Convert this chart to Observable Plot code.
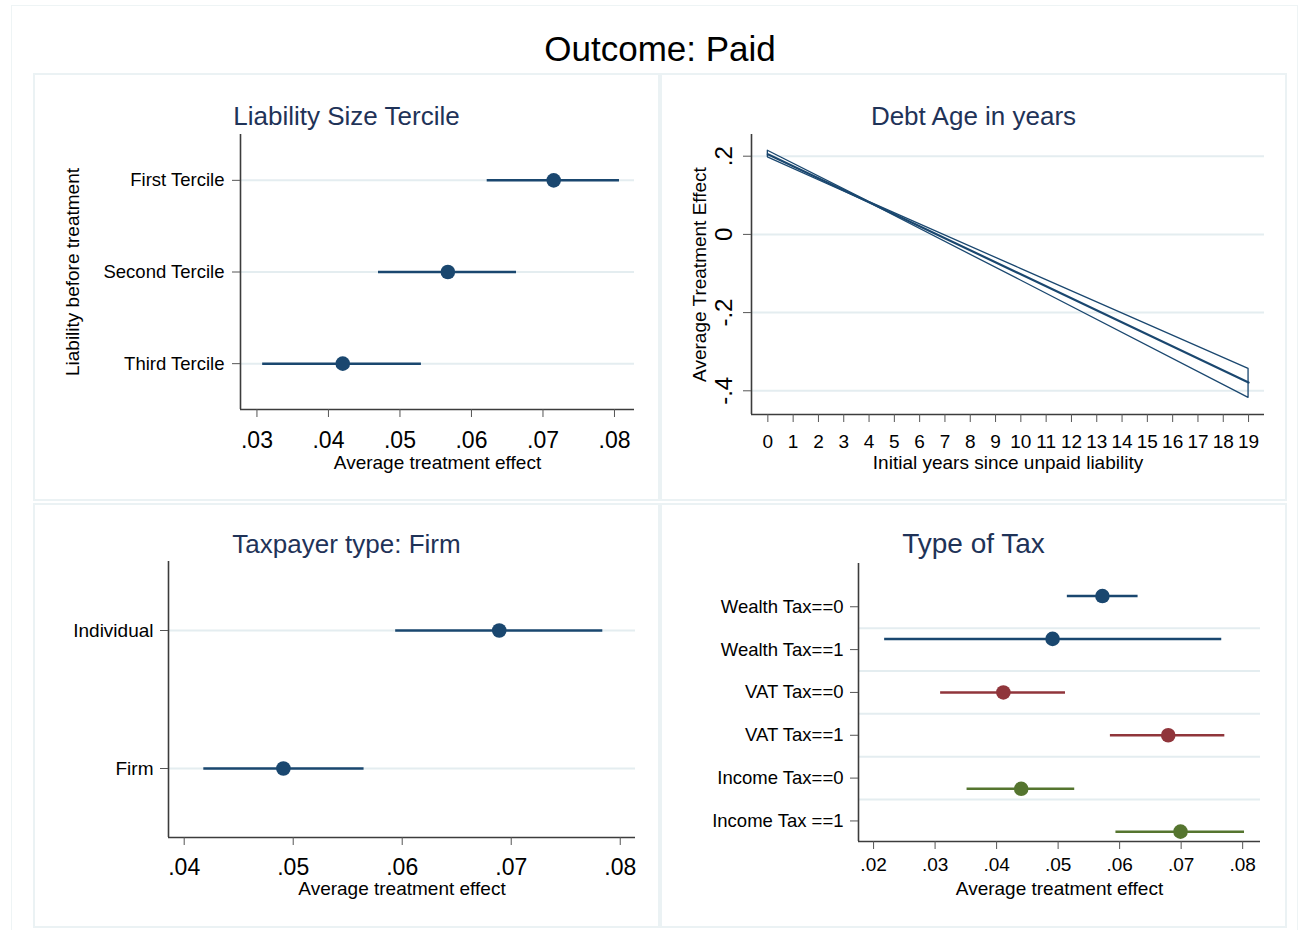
<!DOCTYPE html>
<html>
<head>
<meta charset="utf-8">
<script src="https://cdn.jsdelivr.net/npm/d3@7"></script>
<script src="https://cdn.jsdelivr.net/npm/@observablehq/plot@0.6"></script>
<style>
  html, body { margin: 0; padding: 0; background: #fff; }
  body { font-family: "Liberation Sans", Arial, sans-serif; }
  #root { position: relative; width: 1308px; height: 930px; overflow: hidden; }
  #outer { position: absolute; left: 11px; top: 5px; width: 1287px; height: 940px; box-shadow: inset 0 0 0 1px #eef4f5; }
  #main-title { position: absolute; left: 0; width: 1320px; top: 29px; text-align: center; font-size: 35px; line-height: 40px; color: #000; }
  .panel { position: absolute; box-shadow: inset 0 0 0 2px #ebf2f4; }
  .ptitle { position: absolute; left: 0; right: 0; text-align: center; line-height: 30px; color: #1f3358; white-space: nowrap; }
  .panel svg { position: absolute; left: 0; top: 0; }
</style>
</head>
<body>
<div id="root">
  <div id="outer"></div>
  <div id="main-title">Outcome: Paid</div>
</div>
<script>
// ---------------- data ----------------
// Panel 1: Liability Size Tercile
const tlCats = ["First Tercile", "Second Tercile", "Third Tercile"];
const tlEst  = [0.0715, 0.0567, 0.0420];
const tlLo   = [0.0622, 0.0470, 0.0308];
const tlHi   = [0.0807, 0.0663, 0.0530];
const tlXTicks = [0.03, 0.04, 0.05, 0.06, 0.07, 0.08];

// Panel 2: Debt Age in years
const ageYears = [0, 4, 10, 19];
const ageEst   = [0.205, 0.082, -0.102, -0.379];
const ageLo    = [0.197, 0.081, -0.118, -0.418];
const ageHi    = [0.214, 0.083, -0.088, -0.344];
const ageXTicks = [0,1,2,3,4,5,6,7,8,9,10,11,12,13,14,15,16,17,18,19];
const ageYTicks = [0.2, 0, -0.2, -0.4];

// Panel 3: Taxpayer type: Firm
const tpCats = ["Individual", "Firm"];
const tpEst  = [0.0689, 0.0491];
const tpLo   = [0.0594, 0.0418];
const tpHi   = [0.0784, 0.0565];
const tpXTicks = [0.04, 0.05, 0.06, 0.07, 0.08];

// Panel 4: Type of Tax
const taxCats  = ["Wealth Tax==0", "Wealth Tax==1", "VAT Tax==0", "VAT Tax==1", "Income Tax==0", "Income Tax ==1"];
const taxGroup = ["Wealth", "Wealth", "VAT", "VAT", "Income", "Income"];
const taxEst   = [0.0572, 0.0491, 0.0411, 0.0679, 0.0440, 0.0699];
const taxLo    = [0.0515, 0.0218, 0.0309, 0.0585, 0.0352, 0.0594];
const taxHi    = [0.0630, 0.0766, 0.0512, 0.0771, 0.0527, 0.0803];
const taxXTicks = [0.02, 0.03, 0.04, 0.05, 0.06, 0.07, 0.08];
const taxGroups = ["Wealth", "VAT", "Income"];

// ---------------- styling ----------------
const navy = "#1a476f", maroon = "#90353b", green = "#55752f";
const gridCol = "#e4edf0";
const axisCol = "#3c3c3c";
const tickCol = "#555";
const FONT = "'Liberation Sans', Arial, sans-serif";
const groupOffset = {Wealth: -0.25, VAT: 0, Income: 0.25};

function stata(v) {
  if (v === 0) return "0";
  const s = String(+v.toFixed(4));
  return s.replace(/^(-?)0\./, "$1.");
}

const root = document.getElementById("root");

function makePanel(box, frame, title, titleY, titleSize, plotFn) {
  const [left, top, width, height] = box;
  const div = document.createElement("div");
  div.className = "panel";
  Object.assign(div.style, {left: left + "px", top: top + "px", width: width + "px", height: height + "px"});
  const margins = {
    width, height,
    marginLeft: frame[0] - left,
    marginRight: left + width - frame[1],
    marginTop: frame[2] - top,
    marginBottom: top + height - frame[3]
  };
  const svg = plotFn(margins);
  div.appendChild(svg);
  const t = document.createElement("div");
  t.className = "ptitle";
  t.textContent = title;
  t.style.fontSize = titleSize + "px";
  t.style.top = (titleY - top - 15) + "px";
  div.appendChild(t);
  root.appendChild(div);
}

const baseStyle = {fontFamily: FONT, background: "transparent", overflow: "visible", color: "#000"};
const xLabelOpts = (dy) => ({frameAnchor: "bottom", textAnchor: "middle", lineAnchor: "middle", dy, fontSize: 19});
const yLabelOpts = (dx) => ({frameAnchor: "left", rotate: -90, textAnchor: "middle", lineAnchor: "middle", dx, fontSize: 19});

// ---------- Panel 1 ----------
const tlRows = tlCats.map((c, i) => ({i, c, est: tlEst[i], lo: tlLo[i], hi: tlHi[i]}));
makePanel([33, 73, 627, 428], [240, 634, 134, 409], "Liability Size Tercile", 116, 26, (m) => {
  const xd = [0.0277, 0.0828], yd = [2.5, -0.5];
  return Plot.plot({
    ...m, style: baseStyle,
    x: {domain: xd}, y: {domain: yd},
    marks: [
      Plot.ruleY(tlRows, {y: "i", stroke: gridCol, strokeWidth: 2}),
      Plot.ruleX([xd[0]], {stroke: axisCol, strokeWidth: 1.6}),
      Plot.ruleY([yd[0]], {stroke: axisCol, strokeWidth: 1.6}),
      Plot.axisX(tlXTicks, {tickFormat: stata, tickSize: 8, tickPadding: 14, fontSize: 23, stroke: tickCol, label: null}),
      Plot.axisY([0, 1, 2], {tickFormat: (i) => tlCats[i], tickSize: 8, tickPadding: 8, fontSize: 18.5, stroke: tickCol, label: null}),
      Plot.text(["Average treatment effect"], xLabelOpts(53)),
      Plot.text(["Liability before treatment"], yLabelOpts(-168)),
      Plot.ruleY(tlRows, {y: "i", x1: "lo", x2: "hi", stroke: navy, strokeWidth: 2.5}),
      Plot.dot(tlRows, {x: "est", y: "i", r: 7.3, fill: navy, stroke: "none"})
    ]
  });
});

// ---------- Panel 2 ----------
const ageRows = ageYears.map((yr, i) => ({yr, est: ageEst[i], lo: ageLo[i], hi: ageHi[i]}));
makePanel([660, 73, 627, 428], [751, 1264, 134, 414], "Debt Age in years", 116, 26, (m) => {
  const xd = [-0.646, 19.63], yd = [-0.4606, 0.2555];
  return Plot.plot({
    ...m, style: baseStyle,
    x: {domain: xd}, y: {domain: yd},
    marks: [
      Plot.ruleY(ageYTicks, {stroke: gridCol, strokeWidth: 2}),
      Plot.ruleX([xd[0]], {stroke: axisCol, strokeWidth: 1.6}),
      Plot.ruleY([yd[0]], {stroke: axisCol, strokeWidth: 1.6}),
      Plot.axisX(ageXTicks, {tickSize: 8, tickPadding: 12, fontSize: 19, stroke: tickCol, label: null}),
      Plot.axisY(ageYTicks, {tickSize: 8, tickFormat: () => "", stroke: tickCol, label: null}),
      Plot.text(ageYTicks, {y: (d) => d, text: stata, frameAnchor: "left", textAnchor: "middle", lineAnchor: "middle", rotate: -90, dx: -27, fontSize: 24}),
      Plot.text(["Initial years since unpaid liability"], xLabelOpts(48)),
      Plot.text(["Average Treatment Effect"], yLabelOpts(-52)),
      Plot.areaY(ageRows, {x: "yr", y1: "lo", y2: "hi", fill: "none", stroke: navy, strokeWidth: 1.3}),
      Plot.lineY(ageRows, {x: "yr", y: "est", stroke: navy, strokeWidth: 2.2})
    ]
  });
});

// ---------- Panel 3 ----------
const tpRows = tpCats.map((c, i) => ({i, c, est: tpEst[i], lo: tpLo[i], hi: tpHi[i]}));
makePanel([33, 503, 627, 425], [168, 635, 561, 837], "Taxpayer type: Firm", 544, 26, (m) => {
  const xd = [0.03856, 0.0814], yd = [1.5, -0.5];
  return Plot.plot({
    ...m, style: baseStyle,
    x: {domain: xd}, y: {domain: yd},
    marks: [
      Plot.ruleY(tpRows, {y: "i", stroke: gridCol, strokeWidth: 2}),
      Plot.ruleX([xd[0]], {stroke: axisCol, strokeWidth: 1.6}),
      Plot.ruleY([yd[0]], {stroke: axisCol, strokeWidth: 1.6}),
      Plot.axisX(tpXTicks, {tickFormat: stata, tickSize: 8, tickPadding: 13, fontSize: 23, stroke: tickCol, label: null}),
      Plot.axisY([0, 1], {tickFormat: (i) => tpCats[i], tickSize: 8, tickPadding: 7, fontSize: 19, stroke: tickCol, label: null}),
      Plot.text(["Average treatment effect"], xLabelOpts(51)),
      Plot.ruleY(tpRows, {y: "i", x1: "lo", x2: "hi", stroke: navy, strokeWidth: 2.5}),
      Plot.dot(tpRows, {x: "est", y: "i", r: 7.3, fill: navy, stroke: "none"})
    ]
  });
});

// ---------- Panel 4 ----------
const taxRows = taxCats.map((c, i) => ({
  i, c, g: taxGroup[i], pos: i + groupOffset[taxGroup[i]],
  est: taxEst[i], lo: taxLo[i], hi: taxHi[i]
}));
makePanel([660, 503, 627, 425], [858, 1260, 563, 841], "Type of Tax", 544, 28, (m) => {
  const xd = [0.01755, 0.0829], yd = [5.48, -1.01];
  return Plot.plot({
    ...m, style: baseStyle,
    x: {domain: xd}, y: {domain: yd},
    color: {domain: taxGroups, range: [navy, maroon, green]},
    marks: [
      Plot.ruleY([0.5, 1.5, 2.5, 3.5, 4.5], {stroke: gridCol, strokeWidth: 2}),
      Plot.ruleX([xd[0]], {stroke: axisCol, strokeWidth: 1.6}),
      Plot.ruleY([yd[0]], {stroke: axisCol, strokeWidth: 1.6}),
      Plot.axisX(taxXTicks, {tickFormat: stata, tickSize: 8, tickPadding: 8, fontSize: 19, stroke: tickCol, label: null}),
      Plot.axisY([0, 1, 2, 3, 4, 5], {tickFormat: (i) => taxCats[i], tickSize: 8, tickPadding: 7, fontSize: 18.5, stroke: tickCol, label: null}),
      Plot.text(["Average treatment effect"], xLabelOpts(47)),
      Plot.ruleY(taxRows, {y: "pos", x1: "lo", x2: "hi", stroke: "g", strokeWidth: 2.5}),
      Plot.dot(taxRows, {x: "est", y: "pos", r: 7.3, fill: "g", stroke: "none"})
    ]
  });
});
</script>
</body>
</html>
